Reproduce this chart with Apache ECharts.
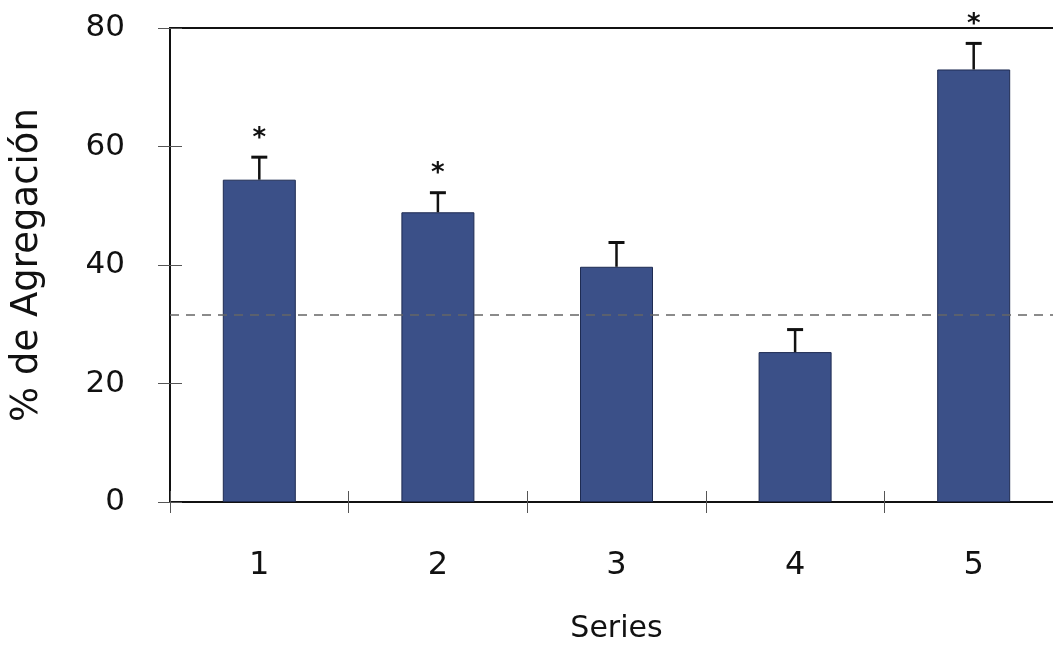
<!DOCTYPE html>
<html>
<head>
<meta charset="utf-8">
<script src="https://cdn.jsdelivr.net/npm/echarts@6/dist/echarts.min.js"></script>
<style>
  html, body { margin: 0; padding: 0; background: #fff; overflow: hidden; }
  #chart { width: 1063px; height: 646px; }
</style>
</head>
<body>
<div id="chart"></div>
<script>
// Aggregation percentage per series, with standard error and significance marks
const categories = ['1', '2', '3', '4', '5'];
const meanValues = [54.4, 48.9, 39.7, 25.3, 73.0];
const errorValues = [3.8, 3.3, 4.1, 3.8, 4.4];
const significance = ['*', '*', '', '', '*'];
const controlLevel = 31.6;
const yTicks = [0, 20, 40, 60, 80];

const FONT = '"DejaVu Sans", sans-serif';
const chart = echarts.init(document.getElementById('chart'), null, { renderer: 'canvas' });

const errorData = categories.map((c, i) => [i, meanValues[i], meanValues[i] + errorValues[i], significance[i]]);

chart.setOption({
  animation: false,
  backgroundColor: '#fff',
  grid: {
    left: 170, top: 28, right: 0, bottom: 144,
    outerBoundsMode: 'none',
    containLabel: false,
    show: true, borderColor: '#111', borderWidth: 2, backgroundColor: 'transparent'
  },
  xAxis: [{
    type: 'category',
    data: categories,
    name: 'Series',
    nameLocation: 'middle',
    nameGap: 112,
    nameTextStyle: { fontFamily: FONT, fontSize: 30, color: '#111' },
    axisLine: { show: true, lineStyle: { color: '#111', width: 2 } },
    axisTick: { show: true, length: 11, lineStyle: { color: '#555', width: 1 } },
    axisLabel: { fontFamily: FONT, fontSize: 32, color: '#111', margin: 48 },
    splitLine: { show: false }
  }, {
    type: 'category',
    data: categories,
    position: 'bottom',
    axisLine: { show: false },
    axisTick: { show: true, inside: true, length: 11, lineStyle: { color: '#555', width: 1 } },
    axisLabel: { show: false },
    splitLine: { show: false }
  }],
  yAxis: [{
    type: 'value',
    min: 0, max: 80, interval: 20,
    name: '% de Agregación',
    nameLocation: 'middle',
    nameGap: 124,
    nameRotate: 90,
    nameTextStyle: { fontFamily: FONT, fontSize: 37, color: '#111' },
    axisLine: { show: true, lineStyle: { color: '#111', width: 2 } },
    axisTick: { show: true, length: 12, lineStyle: { color: '#555', width: 1 } },
    axisLabel: {
      fontFamily: FONT, fontSize: 31, color: '#111', margin: 45,
      formatter: v => (yTicks.includes(v) ? String(v) : '')
    },
    splitLine: { show: false }
  }, {
    type: 'value',
    min: 0, max: 80, interval: 20,
    position: 'left',
    axisLine: { show: false },
    axisTick: { show: true, inside: true, length: 12, lineStyle: { color: '#555', width: 1 } },
    axisLabel: { show: false },
    splitLine: { show: false }
  }],
  series: [{
    type: 'bar',
    data: meanValues,
    barWidth: 73,
    itemStyle: { color: '#3b5088', borderColor: '#1e2b52', borderWidth: 1 },
    markLine: {
      silent: true,
      symbol: 'none',
      label: { show: false },
      lineStyle: { color: '#666', type: [9, 7], width: 1.5 },
      data: [{ yAxis: controlLevel }]
    },
    z: 2
  }, {
    type: 'custom',
    data: errorData,
    encode: { x: 0, y: [1, 2] },
    renderItem: function (params, api) {
      const x = api.value(0);
      const base = api.coord([x, api.value(1)]);
      const top = api.coord([x, api.value(2)]);
      const mark = api.value(3);
      const half = 8;
      const children = [
        { type: 'line', shape: { x1: base[0], y1: base[1], x2: top[0], y2: top[1] },
          style: { stroke: '#111', lineWidth: 2.5 } },
        { type: 'line', shape: { x1: top[0] - half, y1: top[1], x2: top[0] + half, y2: top[1] },
          style: { stroke: '#111', lineWidth: 3 } }
      ];
      if (mark) {
        children.push({ type: 'text', x: top[0], y: top[1] - 18,
          style: { text: mark, fontFamily: FONT, fontSize: 26, fontWeight: 'bold', fill: '#111',
                   align: 'center', verticalAlign: 'middle' } });
      }
      return { type: 'group', children: children };
    },
    z: 3
  }]
});
</script>
</body>
</html>
